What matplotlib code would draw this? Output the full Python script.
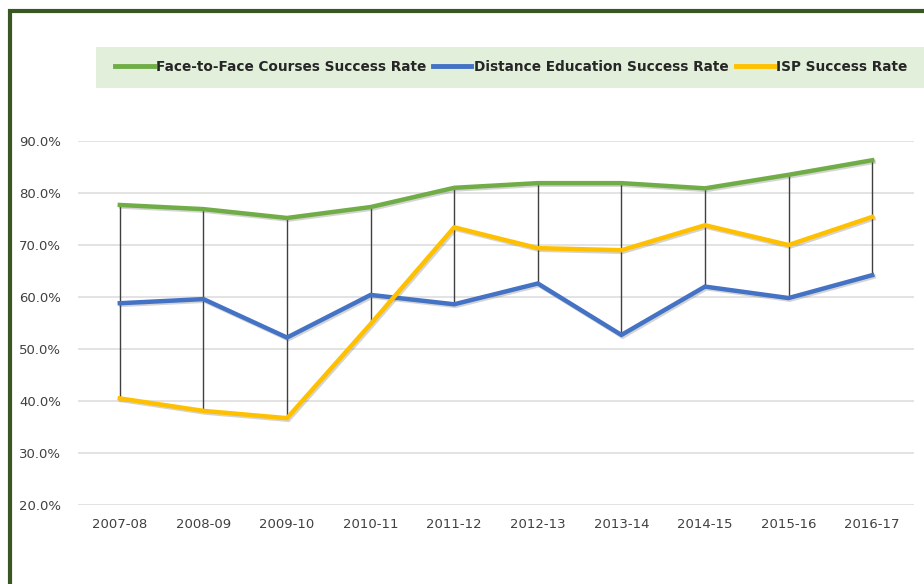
import matplotlib.pyplot as plt
import matplotlib.patheffects as pe
from matplotlib.patches import Rectangle
from matplotlib.ticker import FuncFormatter

# school years on the x axis
years = ['2007-08', '2008-09', '2009-10', '2010-11', '2011-12',
         '2012-13', '2013-14', '2014-15', '2015-16', '2016-17']

# success rates (%)
face_to_face = [77.7, 76.9, 75.2, 77.3, 81.0, 81.9, 81.9, 80.9, 83.5, 86.3]
distance_ed = [58.8, 59.6, 52.2, 60.4, 58.6, 62.6, 52.7, 62.0, 59.8, 64.2]
isp = [40.5, 38.1, 36.7, 54.8, 73.4, 69.4, 69.0, 73.8, 70.0, 75.4]

labels = ['Face-to-Face Courses Success Rate',
          'Distance Education Success Rate',
          'ISP Success Rate']
colors = ['#70ad47', '#4472c4', '#ffc000']

fig = plt.figure(figsize=(9.24, 5.84), dpi=100)
ax = fig.add_axes([78 / 924, 1 - 505 / 584, (914 - 78) / 924, (505 - 141) / 584])

x = list(range(len(years)))

# high-low lines
highs = [max(a, b, c) for a, b, c in zip(face_to_face, distance_ed, isp)]
lows = [min(a, b, c) for a, b, c in zip(face_to_face, distance_ed, isp)]
ax.vlines(x, lows, highs, color='#404040', lw=1.0, zorder=2)

shadow = [pe.SimpleLineShadow(offset=(1.0, -1.2), alpha=0.25, shadow_color='#555555'), pe.Normal()]
handles = []
for vals, col, lab in zip([face_to_face, distance_ed, isp], colors, labels):
    h, = ax.plot(x, vals, color=col, lw=3.2, label=lab, zorder=3,
                 solid_joinstyle='miter', path_effects=shadow)
    handles.append(h)

ax.set_xlim(-0.5, len(years) - 0.5)
ax.set_ylim(20, 90)
ax.set_yticks([20, 30, 40, 50, 60, 70, 80, 90])
ax.yaxis.set_major_formatter(FuncFormatter(lambda v, p: f'{v:.1f}%'))
ax.set_xticks(x)
ax.set_xticklabels(years)
ax.grid(axis='y', color='#dedede', lw=1.2)
ax.set_axisbelow(True)
for s in ax.spines.values():
    s.set_visible(False)
ax.tick_params(length=0, labelsize=9.5, labelcolor='#404040')
ax.tick_params(axis='y', pad=12)
ax.tick_params(axis='x', pad=9)

# legend band
fig.patches.append(Rectangle((96 / 924, 1 - 88 / 584), 1, 41 / 584,
                             transform=fig.transFigure, facecolor='#e2efda',
                             edgecolor='none', zorder=0))
leg = fig.legend(handles=handles, loc='center left',
                 bbox_to_anchor=(110 / 924, 1 - 67 / 584), ncol=3,
                 frameon=False, fontsize=9.8, handlelength=2.8,
                 handletextpad=0.2, columnspacing=0.5, borderaxespad=0)
for t in leg.get_texts():
    t.set_fontweight('bold')
    t.set_color('#262626')
for lh in leg.get_lines():
    lh.set_linewidth(3.5)
    lh.set_path_effects([])

# dark green frame, cut off at right and bottom
fig.patches.append(Rectangle((10 / 924, -0.1), 1.2, 1 - 11 / 584 + 0.1,
                             transform=fig.transFigure, facecolor='none',
                             edgecolor='#385723', lw=3.0, zorder=5))

fig.savefig('out.png', dpi=100)
